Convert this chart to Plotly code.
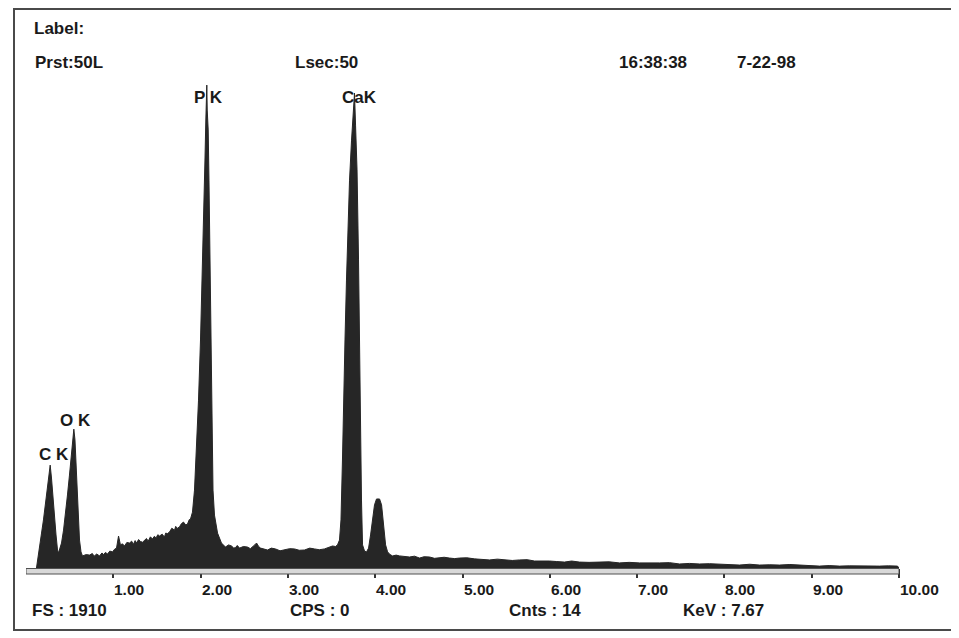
import plotly.graph_objects as go

# ---------------- data ----------------
energy_kev = [
    0.12, 0.132, 0.155, 0.178, 0.200, 0.223, 0.246, 0.263, 0.277, 0.292, 0.309, 0.326, 0.344, 0.361, 0.372, 0.389,
    0.407, 0.430, 0.452, 0.475, 0.498, 0.521, 0.538, 0.548, 0.561, 0.579, 0.596, 0.613, 0.630, 0.647,
    0.690, 0.727, 0.760, 0.780, 0.810, 0.842, 0.870, 0.890, 0.910, 0.934, 0.960, 0.991, 1.015, 1.037, 1.060,
    1.082, 1.105, 1.128, 1.155, 1.186, 1.210, 1.230, 1.250, 1.266, 1.290, 1.310, 1.335,
    1.357, 1.380, 1.400, 1.425, 1.449, 1.470, 1.490, 1.510, 1.529, 1.560, 1.586, 1.600, 1.620, 1.644,
    1.670, 1.701, 1.715, 1.730, 1.758, 1.780, 1.804, 1.830, 1.850, 1.870, 1.884,
    1.907, 1.930, 1.953, 1.976, 1.999, 2.022, 2.039, 2.050, 2.060, 2.067, 2.071, 2.076, 2.087, 2.096,
    2.107, 2.119, 2.131, 2.142, 2.159, 2.194, 2.239,
    2.285, 2.320, 2.354, 2.380, 2.400, 2.420, 2.446, 2.490, 2.537, 2.570, 2.595, 2.620, 2.641, 2.665,
    2.687, 2.730, 2.767, 2.810, 2.858, 2.910, 2.961, 3.020, 3.076, 3.130, 3.190, 3.250, 3.305,
    3.360, 3.419, 3.470, 3.511, 3.545, 3.568,
    3.591, 3.608, 3.625, 3.637, 3.654, 3.671, 3.688, 3.706, 3.729, 3.746, 3.763, 3.775, 3.792, 3.809,
    3.820, 3.832, 3.843, 3.855, 3.878, 3.901,
    3.924, 3.947, 3.969, 3.992, 4.015, 4.050, 4.073, 4.096, 4.119, 4.142,
    4.170, 4.199, 4.240, 4.279, 4.330, 4.393, 4.450, 4.508, 4.560, 4.622, 4.680, 4.737, 4.790, 4.851,
    4.910, 4.966, 5.050, 5.137, 5.220, 5.309, 5.400, 5.481, 5.570, 5.653, 5.740, 5.825, 5.910, 5.997,
    6.080, 6.168, 6.250, 6.340, 6.450, 6.569, 6.680, 6.798, 6.910, 7.027, 7.140, 7.256, 7.370, 7.486,
    7.600, 7.715, 7.830, 7.944, 8.060, 8.173, 8.290, 8.402, 8.520, 8.631, 8.750, 8.860, 8.970, 9.089,
    9.200, 9.318, 9.430, 9.547, 9.660, 9.776, 9.880, 9.983, 10.0,
]
counts = [
    0, 30, 86, 130, 179, 235, 290, 346, 383, 335, 253, 179, 123, 67, 56, 74,
    93, 141, 197, 272, 346, 439, 495, 517, 477, 365, 216, 104, 60, 45,
    50, 48, 54, 44, 52, 45, 56, 50, 58, 52, 63, 60, 70, 74, 119,
    86, 90, 82, 95, 93, 100, 88, 102, 93, 106, 99, 96,
    104, 110, 100, 116, 108, 118, 112, 124, 119, 126, 115, 130, 128, 134,
    148, 141, 155, 147, 153, 165, 171, 160, 164, 180, 182,
    208, 290, 439, 625, 849, 1109, 1333, 1519, 1668, 1742, 1798, 1705, 1631, 1444,
    1147, 849, 551, 290, 197, 130, 93,
    78, 86, 82, 74, 76, 84, 74, 80, 78, 72, 78, 86, 93, 80,
    74, 70, 67, 74, 71, 64, 67, 72, 71, 66, 67, 74, 71,
    68, 71, 76, 82, 80, 86,
    104, 179, 402, 625, 849, 1072, 1258, 1444, 1593, 1668, 1768, 1649, 1482, 1147,
    812, 514, 253, 86, 63, 60,
    74, 123, 186, 235, 257, 257, 235, 160, 86, 60,
    50, 45, 48, 45, 42, 41, 44, 37, 42, 41, 36, 37, 40, 37,
    35, 37, 38, 34, 32, 30, 33, 30, 28, 30, 31, 26, 27, 26,
    24, 22, 26, 22, 21, 22, 23, 19, 21, 19, 18, 19, 20, 15,
    17, 15, 16, 15, 13, 11, 14, 11, 12, 11, 13, 11, 10, 7,
    9, 7, 8, 7, 8, 7, 8, 7, 0,
]

full_scale = 1910
tick_values = [1, 2, 3, 4, 5, 6, 7, 8, 9, 10]
tick_labels = ["1.00", "2.00", "3.00", "4.00", "5.00", "6.00", "7.00", "8.00", "9.00", "10.00"]

peak_names = ["C K", "O K", "P K", "CaK"]
peak_label_kev = [0.321, 0.567, 2.090, 3.820]
peak_label_counts = [421, 551, 1750, 1750]

header_texts = ["Label:", "Prst:50L", "Lsec:50", "16:38:38", "7-22-98"]
footer_texts = ["FS : 1910", "CPS : 0", "Cnts : 14", "KeV : 7.67"]

# ---------------- layout geometry (screen pixels) ----------------
W, H = 959, 638
OFF = 8                      # page body margin in the browser
L, R, T, B = 26 - OFF, 68, 55 - OFF, 78
PW, PH = W - L - R, H - T - B


def px(xp):
    return (xp - OFF - L) / PW


def py(yp):
    return (H - B - (yp - OFF)) / PH


FONT = "Liberation Sans, Arial, sans-serif"
INK = "#1a1a1a"

fig = go.Figure()
fig.add_trace(go.Scatter(
    x=energy_kev, y=counts, mode="lines",
    line=dict(color="#262626", width=1),
    fill="tozeroy", fillcolor="#262626",
    hoverinfo="skip", showlegend=False,
))

annotations = []
header_pos = [(32, 28), (33, 62), (293, 62), (617, 62), (735, 62)]
for txt, (xp, yp) in zip(header_texts, header_pos):
    annotations.append(dict(text="<b>%s</b>" % txt, xref="paper", yref="paper",
                            x=px(xp), y=py(yp), xanchor="left", yanchor="middle",
                            showarrow=False, font=dict(family=FONT, size=17, color=INK)))
footer_pos = [(30, 610), (288, 610), (507, 610), (681, 610)]
for txt, (xp, yp) in zip(footer_texts, footer_pos):
    annotations.append(dict(text="<b>%s</b>" % txt, xref="paper", yref="paper",
                            x=px(xp), y=py(yp), xanchor="left", yanchor="middle",
                            showarrow=False, font=dict(family=FONT, size=17, color=INK)))
for tv, tl in zip(tick_values, tick_labels):
    annotations.append(dict(text="<b>%s</b>" % tl, xref="x", yref="paper",
                            x=tv, y=py(590), xanchor="left", yanchor="middle", xshift=-1,
                            showarrow=False, font=dict(family=FONT, size=15.5, color=INK)))
for name, kx, ky in zip(peak_names, peak_label_kev, peak_label_counts):
    annotations.append(dict(text="<b>%s</b>" % name, xref="x", yref="y",
                            x=kx, y=ky, xanchor="center", yanchor="middle",
                            showarrow=False, font=dict(family=FONT, size=17, color=INK)))

shapes = [
    dict(type="rect", xref="paper", yref="paper",
         x0=px(14), x1=px(953), y0=py(630), y1=py(9),
         line=dict(color="#4a4a4a", width=2), fillcolor="rgba(0,0,0,0)", layer="below"),
    dict(type="rect", xref="x", yref="paper", x0=0, x1=10, y0=py(574), y1=py(568.5),
         line=dict(color="#505050", width=1), fillcolor="#d8d8d8", layer="above"),
]

fig.update_layout(
    width=W, height=H,
    margin=dict(l=L, r=R, t=T, b=B, pad=0),
    paper_bgcolor="white", plot_bgcolor="white",
    showlegend=False,
    annotations=annotations,
    shapes=shapes,
    xaxis=dict(range=[0, 10], showgrid=False, zeroline=False, showline=False,
               tickvals=tick_values, showticklabels=False,
               ticks="outside", ticklen=9, tickwidth=1.5, tickcolor="#333"),
    yaxis=dict(range=[0, full_scale], showgrid=False, zeroline=False, showline=False,
               showticklabels=False, ticks=""),
)

fig.write_html("out.html")
